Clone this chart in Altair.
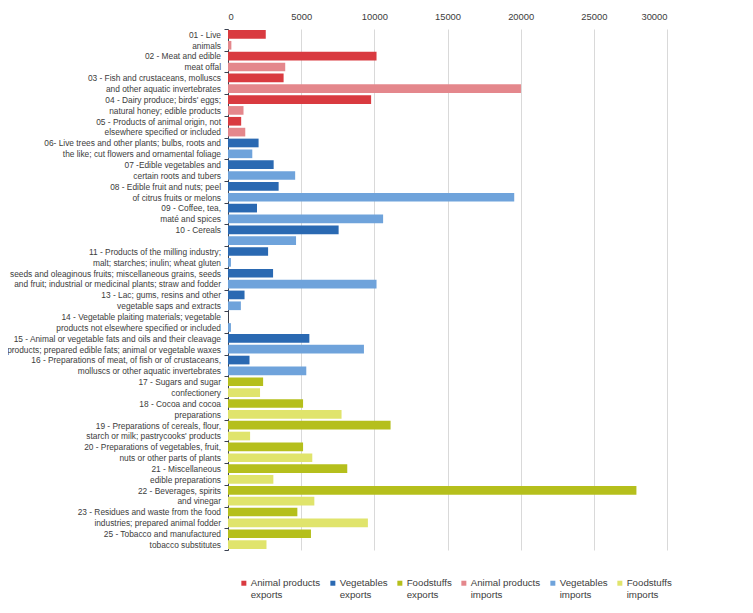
import altair as alt
import pandas as pd

codes = ["01", "02", "03", "04", "05", "06", "07", "08", "09", "10", "11", "12",
         "13", "14", "15", "16", "17", "18", "19", "20", "21", "22", "23", "25"]

line1 = [
    "01 - Live",
    "02 - Meat and edible",
    "03 - Fish and crustaceans, molluscs",
    "04 - Dairy produce; birds' eggs;",
    "05 - Products of animal origin, not",
    "06- Live trees and other plants; bulbs, roots and",
    "07 -Edible vegetables and",
    "08 - Edible fruit and nuts; peel",
    "09 - Coffee, tea,",
    "10 - Cereals",
    "11 - Products of the milling industry;",
    "seeds and oleaginous fruits; miscellaneous grains, seeds",
    "13 - Lac; gums, resins and other",
    "14 - Vegetable plaiting materials; vegetable",
    "15 - Animal or vegetable fats and oils and their cleavage",
    "16 - Preparations of meat, of fish or of crustaceans,",
    "17 - Sugars and sugar",
    "18 - Cocoa and cocoa",
    "19 - Preparations of cereals, flour,",
    "20 - Preparations of vegetables, fruit,",
    "21 - Miscellaneous",
    "22 - Beverages, spirits",
    "23 - Residues and waste from the food",
    "25 - Tobacco and manufactured",
]

line2 = [
    "animals",
    "meat offal",
    "and other aquatic invertebrates",
    "natural honey; edible products",
    "elsewhere specified or included",
    "the like; cut flowers and ornamental foliage",
    "certain roots and tubers",
    "of citrus fruits or melons",
    "maté and spices",
    "",
    "malt; starches; inulin; wheat gluten",
    "and fruit; industrial or medicinal plants; straw and fodder",
    "vegetable saps and extracts",
    "products not elsewhere specified or included",
    "products; prepared edible fats; animal or vegetable waxes",
    "molluscs or other aquatic invertebrates",
    "confectionery",
    "preparations",
    "starch or milk; pastrycooks' products",
    "nuts or other parts of plants",
    "edible preparations",
    "and vinegar",
    "industries; prepared animal fodder",
    "tobacco substitutes",
]

groups = ["Animal products"] * 5 + ["Vegetables"] * 11 + ["Foodstuffs"] * 8

exports_vals = [2580, 10150, 3800, 9780, 900, 2090, 3120, 3460, 1980, 7560, 2740, 3080,
                1130, 0, 5560, 1470, 2400, 5130, 11110, 5130, 8150, 27910, 4740, 5670]
imports_vals = [230, 3910, 20020, 1060, 1180, 1660, 4590, 19560, 10600, 4650, 200, 10150,
                880, 200, 9290, 5350, 2190, 7760, 1510, 5760, 3100, 5900, 9560, 2630]

series_order = ["Animal products|exports", "Vegetables|exports", "Foodstuffs|exports",
                "Animal products|imports", "Vegetables|imports", "Foodstuffs|imports"]
series_colors = ["#d93a40", "#2a69b2", "#b5bf1c", "#e4878c", "#6fa3db", "#e0e46c"]

x_ticks = [0, 5000, 10000, 15000, 20000, 25000, 30000]

cat_order = [a + "|" + b for a, b in zip(line1, line2)]
rows = []
for i in range(len(codes)):
    for flow, vals in (("exports", exports_vals), ("imports", imports_vals)):
        rows.append({
            "category": cat_order[i],
            "flow": flow,
            "series": groups[i] + "|" + flow,
            "value": vals[i],
        })
df = pd.DataFrame(rows)

FONT = "Liberation Sans"
TEXT = "#3c3c3c"

chart = alt.Chart(df).mark_bar().encode(
    x=alt.X("value:Q",
            scale=alt.Scale(domain=[0, 30000], nice=False),
            axis=alt.Axis(orient="top", values=x_ticks, title=None, ticks=False, tickSize=0,
                          domain=False, labelPadding=8, grid=True, gridColor="#d9d9d9",
                          gridWidth=1, labelFontSize=9.4, labelColor=TEXT, labelFont=FONT,
                          format="d")),
    y=alt.Y("category:N", sort=cat_order,
            scale=alt.Scale(paddingInner=0, paddingOuter=0),
            axis=alt.Axis(title=None, tickBand="extent", labelExpr="split(datum.label, '|')",
                          labelLineHeight=10.85, labelPadding=3.5, tickSize=4, labelLimit=400,
                          labelOffset=-5.6,
                          domainColor="#3a4150", tickColor="#3a4150", labelFontSize=8.35,
                          labelFont=FONT, labelColor=TEXT, grid=False, labelAlign="right")),
    yOffset=alt.YOffset("flow:N", sort=["exports", "imports"],
                        scale=alt.Scale(paddingInner=0.2, paddingOuter=0.1)),
    color=alt.Color("series:N", sort=series_order,
                    scale=alt.Scale(domain=series_order, range=series_colors),
                    legend=alt.Legend(title=None, orient="none", legendX=11, legendY=549,
                                      direction="horizontal", columns=6, columnPadding=7,
                                      symbolType="square", symbolSize=25, symbolStrokeWidth=0,
                                      labelExpr="split(datum.label, '|')", labelFont=FONT,
                                      labelFontSize=9.7, labelColor=TEXT, labelLimit=200,
                                      labelOffset=2)),
).properties(
    width=439, height=521,
    padding={"left": 220, "top": 21, "right": 70, "bottom": 50},
    autosize=alt.AutoSizeParams(type="none"),
).configure_view(stroke=None)

chart.save("out.html", embed_options={"renderer": "svg", "actions": False})
